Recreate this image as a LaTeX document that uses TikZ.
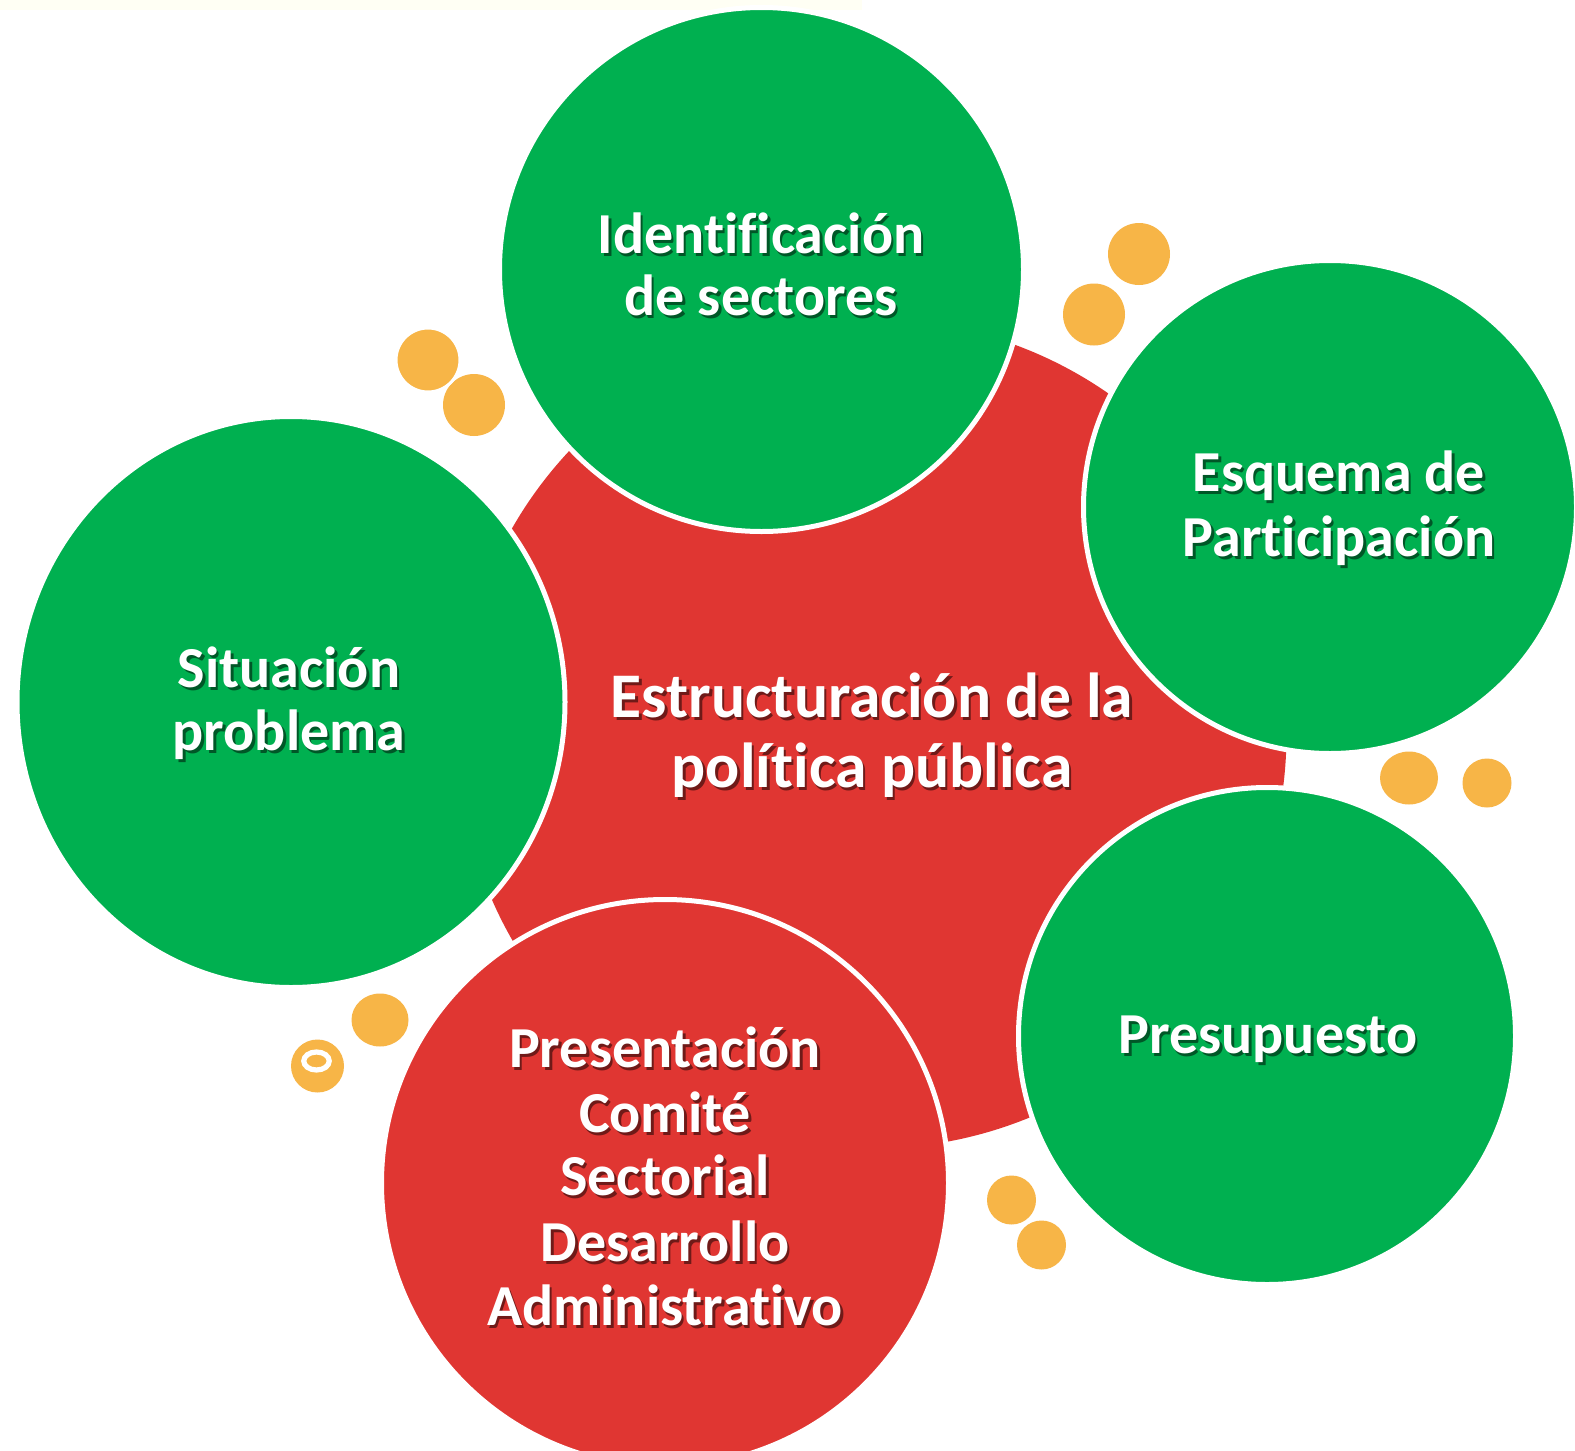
\documentclass[tikz,border=0pt]{standalone}
\usepackage{fontspec}
\setmainfont{Carlito}[Ligatures={CommonOff}]
\usetikzlibrary{shapes.geometric}
\definecolor{cgreen}{RGB}{0,176,80}
\definecolor{cred}{RGB}{224,54,50}
\definecolor{corange}{RGB}{247,181,71}
\definecolor{cstrip}{RGB}{255,255,244}
\newcommand\lblfont{\bfseries\fontsize{29}{31}\selectfont}
\newcommand\bigfont{\bfseries\fontsize{31.8}{34}\selectfont}
\begin{document}
\begin{tikzpicture}[x=0.5pt,y=-0.5pt,
  bub/.style={circle,inner sep=0pt,outer sep=0pt,draw=white,line width=2.5pt},
  ebub/.style={ellipse,inner sep=0pt,outer sep=0pt,draw=white,line width=2.5pt},
  dot/.style={circle,inner sep=0pt,outer sep=0pt,fill=corange},
  edot/.style={ellipse,inner sep=0pt,outer sep=0pt,fill=corange},
  lbl/.style={text=white,font=\lblfont,anchor=base,inner sep=0pt},
  shd/.style={text=black,text opacity=0.5,font=\lblfont,anchor=base,inner sep=0pt},
  blbl/.style={lbl,font=\bigfont},
  bshd/.style={shd,font=\bigfont}]
\useasboundingbox (0,0) rectangle (1575,1451);
\fill[white] (0,0) rectangle (1575,1451);
\fill[cstrip] (0,0) rectangle (862,10);
% central circle
\node[circle,inner sep=0pt,outer sep=0pt,fill=cred,minimum size=414.5pt] (core) at (872,734) {};
% orange dots
\node[dot,minimum size=31pt] (d2) at (474,405) {};
\node[dot,minimum size=32pt,draw=white,line width=1.5pt] (d1) at (428,360) {};
\node[dot,minimum size=31pt] (d3) at (1139,254) {};
\node[dot,minimum size=31pt] (d4) at (1094,314.5) {};
\node[edot,minimum width=29pt,minimum height=26.5pt] (d5) at (1409,778) {};
\node[dot,minimum size=24.5pt] (d6) at (1487,783) {};
\node[edot,minimum width=28.5pt,minimum height=26.5pt] (d7) at (380,1020) {};
\node[dot,minimum size=26.5pt] (d8) at (317.5,1066) {};
\node[ellipse,inner sep=0pt,draw=white,line width=2.6pt,minimum width=12.75pt,minimum height=9pt] (d8r) at (316.5,1061) {};
\node[dot,minimum size=24.5pt] (d9) at (1011.5,1200) {};
\node[dot,minimum size=24.5pt] (d10) at (1041.5,1245) {};
% satellite circles
\node[bub,fill=cgreen,minimum size=262pt] (top) at (761.5,269.5) {};
\node[bub,fill=cgreen,minimum size=246.5pt] (right) at (1330,507) {};
\node[bub,fill=cgreen,minimum size=248.5pt] (botright) at (1267,1036) {};
\node[ebub,fill=cgreen,minimum width=274pt,minimum height=285.5pt] (left) at (291,702) {};
\node[bub,fill=cred,minimum size=283.5pt] (bottom) at (665,1183) {};
% labels
\foreach \n/\x/\y/\t in {ta/761/253/Identificación, tb/761/315/de sectores,
  ra/1339/491/Esquema de, rb/1339/556/Participación,
  la/289/687/Situación, lb/289/750/problema,
  pa/1268/1053/Presupuesto,
  ba/665/1067/Presentación, bb/665/1132/Comité, bc/665/1195/Sectorial,
  bd/665/1261/Desarrollo, be/665/1325/Administrativo}{
  \node[shd] (\n s) at (\x+2.5,\y+3) {\t};
  \node[lbl] (\n) at (\x,\y) {\t};
}
\foreach \n/\x/\y/\t in {ca/872/717/Estructuración de la, cb/872/787/política pública}{
  \node[bshd] (\n s) at (\x+2.5,\y+3) {\t};
  \node[blbl] (\n) at (\x,\y) {\t};
}
\end{tikzpicture}
\end{document}
